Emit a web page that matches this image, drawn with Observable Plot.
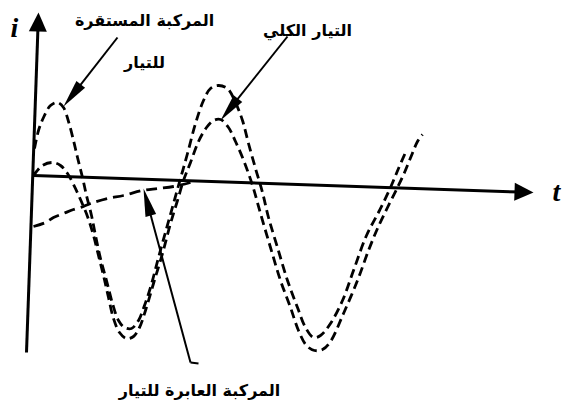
<!DOCTYPE html>
<html>
<head>
<meta charset="utf-8">
<script src="https://cdn.jsdelivr.net/npm/d3@7"></script>
<script src="https://cdn.jsdelivr.net/npm/@observablehq/plot@0.6"></script>
<style>
html, body { margin: 0; padding: 0; background: #fff; }
#chart svg { display: block; }
</style>
</head>
<body>
<div id="chart"></div>
<script>
// ---- data (t = time units, i = current units) ----
const steadyT = [1,5,10,17,24,30,35,40,44,49,53,58,62,67,73,79,85,91,98,105,111,117,125,133,140,147,154,162,170,177,185,194,202,209,215,222,229,235,244,254,264,272,280,287,297,309,320,333,346,357,365,372];
const steadyI = [27,45,58,70,73,68,54,35,18,-2,-20,-40,-60,-83,-105,-128,-145,-152,-153,-145,-130,-112,-82,-53,-28,-3,22,52,75,87,90,87,73,55,32,7,-17,-42,-72,-105,-132,-152,-162,-160,-148,-125,-95,-60,-35,-12,7,23];

const totalT = [0,3,9,19,27,34,40,47,54,60,65,70,75,80,86,93,100,106,112,120,129,137,144,150,157,165,173,180,187,195,202,209,215,220,227,237,247,257,265,273,281,289,297,310,324,335,344,354,364,371,378,384,389];
const totalI = [0,4,10,13,10,2,-9,-24,-41,-60,-80,-100,-122,-143,-157,-163,-161,-152,-135,-108,-78,-48,-25,-5,13,34,48,55,56,48,34,18,2,-13,-38,-72,-105,-132,-155,-170,-175,-174,-166,-138,-105,-75,-53,-32,-12,3,20,34,41];

const transientT = [0,12,20,30,40,50,57,74,90,109,124,140,157];
const transientI = [-51,-47,-42,-38,-34,-31,-28,-23,-20,-15,-13,-11,-7];

// axes (start -> arrow tip)
const axisNames = ["t", "i"];
const axisStart = [[0, 0], [-7, -177]];
const axisEnd   = [[500, -17], [5, 163]];

// annotation pointers (tail -> tip)
const pointerNames = ["steady", "total", "transient"];
const pointerTail = [[84, 138], [254, 139], [157, -187]];
const pointerTip  = [[30, 69], [187, 55], [110, -13]];
const hookEnd = [165, -188];

// text labels
const labelTexts = ["المركبة المستقرة", "للتيار", "التيار الكلي", "المركبة العابرة للتيار"];
const labelT = [111, 111, 274, 166];
const labelI = [155, 113, 145, -215];
const axisLabelTexts = ["i", "t"];
const axisLabelT = [-19, 523];
const axisLabelI = [147, -17];

// ---- build tables ----
const zipTI = (T, I) => T.map((t, k) => ({t, i: I[k]}));
const steady = zipTI(steadyT, steadyI);
const total = zipTI(totalT, totalI);
const transient = zipTI(transientT, transientI);

const mkSeg = (names, A, B) => names.map((n, k) => ({name: n, t1: A[k][0], i1: A[k][1], t2: B[k][0], i2: B[k][1]}));
const axes = mkSeg(axisNames, axisStart, axisEnd);
const pointers = mkSeg(pointerNames, pointerTail, pointerTip);
const hook = [{t1: pointerTail[2][0], i1: pointerTail[2][1], t2: hookEnd[0], i2: hookEnd[1]}];

const labels = labelTexts.map((s, k) => ({s, t: labelT[k], i: labelI[k]}));
const axisLabels = axisLabelTexts.map((s, k) => ({s, t: axisLabelT[k], i: axisLabelI[k]}));

// ---- styling ----
const W = 563, H = 408;
const axisHead = {length: 19, r: 9};
const pointerHead = {length: 28, r: 5.5};

const headShape = {
  draw(ctx, l, r) {
    ctx.moveTo(0, -l);
    ctx.lineTo(r, 0);
    ctx.lineTo(-r, 0);
    ctx.closePath();
  }
};
const angle = d => Math.atan2(d.t2 - d.t1, d.i2 - d.i1) * 180 / Math.PI;
// shaft stops inside the head so the tip stays sharp
const shorten = (d, L) => {
  const dx = d.t2 - d.t1, dy = d.i2 - d.i1, n = Math.hypot(dx, dy);
  return {...d, t2: d.t2 - dx / n * L, i2: d.i2 - dy / n * L};
};

const dashed = {x: "t", y: "i", curve: "catmull-rom", stroke: "black", strokeWidth: 2.8, strokeDasharray: "9,5", strokeLinecap: "butt"};

const plot = Plot.plot({
  width: W,
  height: H,
  margin: 0,
  x: {domain: [-33, W - 33], axis: null},
  y: {domain: [175 - H, 175], axis: null},
  style: {background: "#fff"},
  marks: [
    // axes
    Plot.link(axes.map(d => shorten(d, axisHead.length * 0.6)), {x1: "t1", y1: "i1", x2: "t2", y2: "i2", stroke: "black", strokeWidth: 3}),
    Plot.vector(axes, {x: "t2", y: "i2", rotate: angle, length: axisHead.length, r: axisHead.r, anchor: "end", shape: headShape, fill: "black", stroke: "none"}),
    // curves
    Plot.line(transient, {...dashed, strokeDasharray: "11,6"}),
    Plot.line(steady, dashed),
    Plot.line(total, dashed),
    // pointers
    Plot.link(pointers.map(d => shorten(d, pointerHead.length * 0.6)), {x1: "t1", y1: "i1", x2: "t2", y2: "i2", stroke: "black", strokeWidth: 2}),
    Plot.link(hook, {x1: "t1", y1: "i1", x2: "t2", y2: "i2", stroke: "black", strokeWidth: 2}),
    Plot.vector(pointers, {x: "t2", y: "i2", rotate: angle, length: pointerHead.length, r: pointerHead.r, anchor: "end", shape: headShape, fill: "black", stroke: "none"}),
    // labels
    Plot.text(labels, {x: "t", y: "i", text: "s", fontSize: 16, fontWeight: "bold", fontFamily: "DejaVu Sans, Arial, sans-serif", fill: "black"}),
    Plot.text(axisLabels, {x: "t", y: "i", text: "s", fontSize: 28, fontStyle: "italic", fontWeight: "bold", fontFamily: "Liberation Serif, Times New Roman, serif", fill: "black"})
  ]
});
document.getElementById("chart").append(plot);
</script>
</body>
</html>
